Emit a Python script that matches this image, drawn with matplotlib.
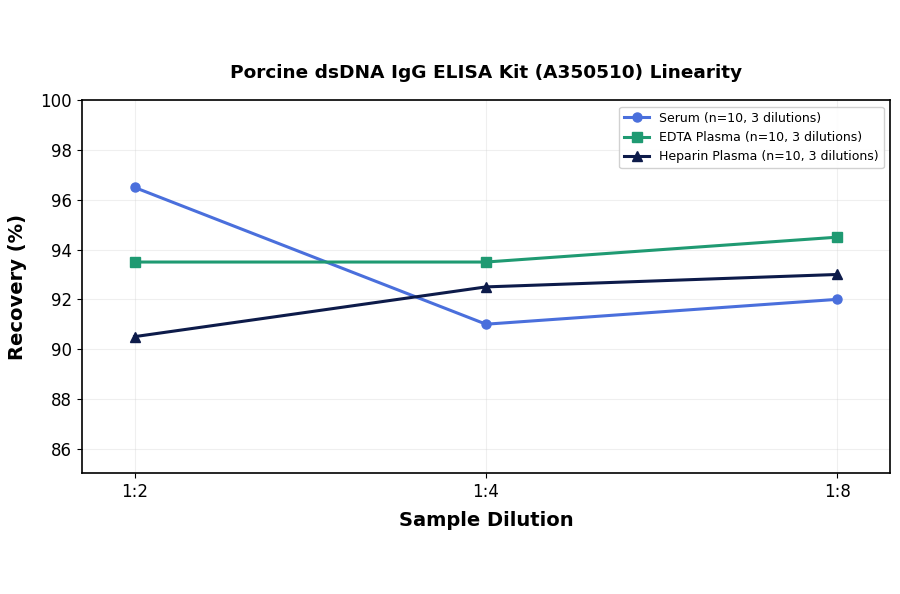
import matplotlib
matplotlib.use("Agg")
import matplotlib.pyplot as plt

dilutions = ["1:2", "1:4", "1:8"]
serum = [96.5, 91.0, 92.0]
edta = [93.5, 93.5, 94.5]
heparin = [90.5, 92.5, 93.0]
labels = ["Serum (n=10, 3 dilutions)", "EDTA Plasma (n=10, 3 dilutions)", "Heparin Plasma (n=10, 3 dilutions)"]
colors = ["#4a6fdc", "#1f9a72", "#0d1b4a"]
markers = ["o", "s", "^"]

fig = plt.figure(figsize=(9, 5.94), dpi=100)
ax = fig.add_axes([0.091, 0.203, 0.898, 0.628])
x = list(range(len(dilutions)))
for ys, lab, c, m in zip([serum, edta, heparin], labels, colors, markers):
    ax.plot(x, ys, color=c, marker=m, linewidth=2.2, markersize=6.5, label=lab)
ax.set_xticks(x)
ax.set_xticklabels(dilutions, fontsize=12)
ax.set_ylim(85, 100)
ax.set_yticks([86, 88, 90, 92, 94, 96, 98, 100])
ax.tick_params(axis="y", labelsize=12)
ax.set_xlim(-0.15, 2.15)
ax.grid(True, alpha=0.3, color="#cccccc")
for s in ax.spines.values():
    s.set_linewidth(1.2)
ax.set_xlabel("Sample Dilution", fontsize=14, fontweight="bold", labelpad=7)
ax.set_ylabel("Recovery (%)", fontsize=14, fontweight="bold", labelpad=10)
ax.set_title("Porcine dsDNA IgG ELISA Kit (A350510) Linearity", fontsize=13.3, fontweight="bold", pad=16)
ax.legend(loc="upper right", fontsize=9, framealpha=0.9)
fig.savefig("out.png", dpi=100)
